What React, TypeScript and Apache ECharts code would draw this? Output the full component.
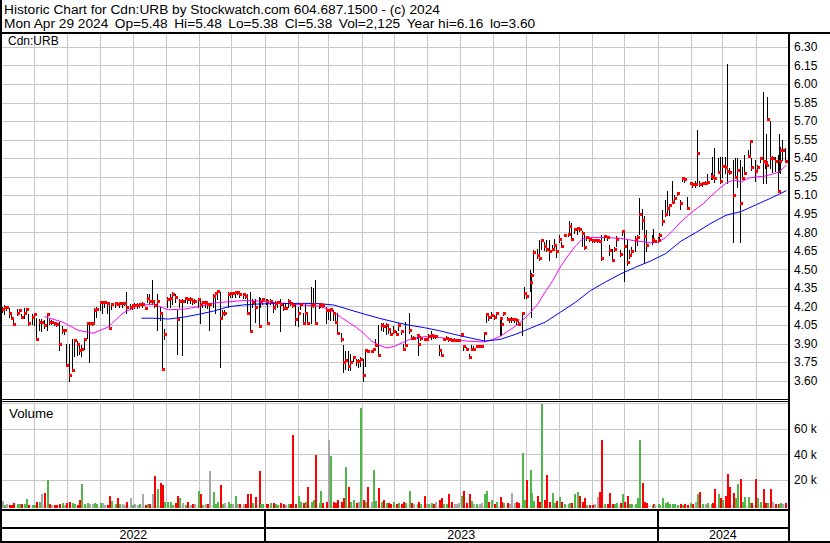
import React, { useEffect, useRef } from 'react';
import * as echarts from 'echarts';

// Sessions sampled through the period (Mon / Wed / Fri, holidays shifted)
const dates = [
  '2022-05-02', '2022-05-04', '2022-05-06',
  '2022-05-09', '2022-05-11', '2022-05-13',
  '2022-05-16', '2022-05-18', '2022-05-20',
  '2022-05-23', '2022-05-25', '2022-05-27',
  '2022-05-30', '2022-06-01', '2022-06-03',
  '2022-06-06', '2022-06-08', '2022-06-10',
  '2022-06-13', '2022-06-15', '2022-06-17',
  '2022-06-20', '2022-06-22', '2022-06-24',
  '2022-06-27', '2022-06-29', '2022-07-01',
  '2022-07-04', '2022-07-06', '2022-07-08',
  '2022-07-11', '2022-07-13', '2022-07-15',
  '2022-07-18', '2022-07-20', '2022-07-22',
  '2022-07-25', '2022-07-27', '2022-07-29',
  '2022-08-01', '2022-08-03', '2022-08-05',
  '2022-08-08', '2022-08-10', '2022-08-12',
  '2022-08-15', '2022-08-17', '2022-08-19',
  '2022-08-22', '2022-08-24', '2022-08-26',
  '2022-08-29', '2022-08-31', '2022-09-02',
  '2022-09-05', '2022-09-07', '2022-09-09',
  '2022-09-12', '2022-09-14', '2022-09-16',
  '2022-09-19', '2022-09-21', '2022-09-23',
  '2022-09-26', '2022-09-28', '2022-09-30',
  '2022-10-03', '2022-10-05', '2022-10-07',
  '2022-10-10', '2022-10-12', '2022-10-14',
  '2022-10-17', '2022-10-19', '2022-10-21',
  '2022-10-24', '2022-10-26', '2022-10-28',
  '2022-10-31', '2022-11-02', '2022-11-04',
  '2022-11-07', '2022-11-09', '2022-11-11',
  '2022-11-14', '2022-11-16', '2022-11-18',
  '2022-11-21', '2022-11-23', '2022-11-25',
  '2022-11-28', '2022-11-30', '2022-12-02',
  '2022-12-05', '2022-12-07', '2022-12-09',
  '2022-12-12', '2022-12-14', '2022-12-16',
  '2022-12-19', '2022-12-21', '2022-12-23',
  '2022-12-27', '2022-12-28', '2022-12-30',
  '2023-01-03', '2023-01-04', '2023-01-06',
  '2023-01-09', '2023-01-11', '2023-01-13',
  '2023-01-16', '2023-01-18', '2023-01-20',
  '2023-01-23', '2023-01-25', '2023-01-27',
  '2023-01-30', '2023-02-01', '2023-02-03',
  '2023-02-06', '2023-02-08', '2023-02-10',
  '2023-02-13', '2023-02-15', '2023-02-17',
  '2023-02-21', '2023-02-22', '2023-02-24',
  '2023-02-27', '2023-03-01', '2023-03-03',
  '2023-03-06', '2023-03-08', '2023-03-10',
  '2023-03-13', '2023-03-15', '2023-03-17',
  '2023-03-20', '2023-03-22', '2023-03-24',
  '2023-03-27', '2023-03-29', '2023-03-31',
  '2023-04-03', '2023-04-05', '2023-04-06',
  '2023-04-10', '2023-04-12', '2023-04-14',
  '2023-04-17', '2023-04-19', '2023-04-21',
  '2023-04-24', '2023-04-26', '2023-04-28',
  '2023-05-01', '2023-05-03', '2023-05-05',
  '2023-05-08', '2023-05-10', '2023-05-12',
  '2023-05-15', '2023-05-17', '2023-05-19',
  '2023-05-23', '2023-05-24', '2023-05-26',
  '2023-05-29', '2023-05-31', '2023-06-02',
  '2023-06-05', '2023-06-07', '2023-06-09',
  '2023-06-12', '2023-06-14', '2023-06-16',
  '2023-06-19', '2023-06-21', '2023-06-23',
  '2023-06-26', '2023-06-28', '2023-06-30',
  '2023-07-03', '2023-07-05', '2023-07-07',
  '2023-07-10', '2023-07-12', '2023-07-14',
  '2023-07-17', '2023-07-19', '2023-07-21',
  '2023-07-24', '2023-07-26', '2023-07-28',
  '2023-07-31', '2023-08-02', '2023-08-04',
  '2023-08-08', '2023-08-09', '2023-08-11',
  '2023-08-14', '2023-08-16', '2023-08-18',
  '2023-08-21', '2023-08-23', '2023-08-25',
  '2023-08-28', '2023-08-30', '2023-09-01',
  '2023-09-05', '2023-09-06', '2023-09-08',
  '2023-09-11', '2023-09-13', '2023-09-15',
  '2023-09-18', '2023-09-20', '2023-09-22',
  '2023-09-25', '2023-09-27', '2023-09-29',
  '2023-10-02', '2023-10-04', '2023-10-06',
  '2023-10-10', '2023-10-11', '2023-10-13',
  '2023-10-16', '2023-10-18', '2023-10-20',
  '2023-10-23', '2023-10-25', '2023-10-27',
  '2023-10-30', '2023-11-01', '2023-11-03',
  '2023-11-06', '2023-11-08', '2023-11-10',
  '2023-11-13', '2023-11-15', '2023-11-17',
  '2023-11-20', '2023-11-22', '2023-11-24',
  '2023-11-27', '2023-11-29', '2023-12-01',
  '2023-12-04', '2023-12-06', '2023-12-08',
  '2023-12-11', '2023-12-13', '2023-12-15',
  '2023-12-18', '2023-12-20', '2023-12-22',
  '2023-12-27', '2023-12-28', '2023-12-29',
  '2024-01-02', '2024-01-03', '2024-01-05',
  '2024-01-08', '2024-01-10', '2024-01-12',
  '2024-01-15', '2024-01-17', '2024-01-19',
  '2024-01-22', '2024-01-24', '2024-01-26',
  '2024-01-29', '2024-01-31', '2024-02-02',
  '2024-02-05', '2024-02-07', '2024-02-09',
  '2024-02-12', '2024-02-14', '2024-02-16',
  '2024-02-20', '2024-02-21', '2024-02-23',
  '2024-02-26', '2024-02-28', '2024-03-01',
  '2024-03-04', '2024-03-06', '2024-03-08',
  '2024-03-11', '2024-03-13', '2024-03-15',
  '2024-03-18', '2024-03-20', '2024-03-22',
  '2024-03-25', '2024-03-27', '2024-03-28',
  '2024-04-01', '2024-04-03', '2024-04-05',
  '2024-04-08', '2024-04-10', '2024-04-11', '2024-04-12',
  '2024-04-15', '2024-04-17', '2024-04-19',
  '2024-04-22', '2024-04-23', '2024-04-24', '2024-04-26',
  '2024-04-29',
];

const highs = [
  4.20, 4.21, 4.20,  4.19, 4.13, 4.11,  4.18, 4.18, 4.14,  4.19, 4.18, 4.14,
  4.14, 4.15, 4.11,  4.10, 4.10, 4.09,  4.14, 4.10, 4.09,  4.08, 4.08, 4.08,
  4.04, 4.02, 3.90,  3.90, 3.94, 3.93,  3.92, 3.90, 3.89,  3.94, 4.07, 4.07,
  4.08, 4.19, 4.20,  4.25, 4.25, 4.25,  4.23, 4.24, 4.23,  4.24, 4.24, 4.23,
  4.24, 4.23, 4.32,  4.22, 4.22, 4.23,  4.23, 4.23, 4.24,  4.20, 4.30, 4.30,
  4.42, 4.23, 4.30,  4.20, 4.15, 4.02,  4.28, 4.30, 4.32,  4.30, 4.17, 4.26,
  4.26, 4.28, 4.27,  4.28, 4.27, 4.26,  4.27, 4.25, 4.25,  4.25, 4.24, 4.23,
  4.30, 4.32, 4.33,  4.32, 4.17, 4.17,  4.32, 4.32, 4.32,  4.33, 4.33, 4.31,
  4.31, 4.30, 4.30,  4.32, 4.26, 4.26,  4.28, 4.27, 4.27,  4.26, 4.26, 4.26,
  4.24, 4.25, 4.25,  4.26, 4.22, 4.22,  4.26, 4.25, 4.24,  4.22, 4.20, 4.23,
  4.15, 4.22, 4.15,  4.36, 4.35, 4.42,  4.22, 4.22, 4.22,  4.20, 4.18, 4.19,
  4.17, 4.16, 4.15,  3.99, 3.89, 3.84,  3.84, 3.82, 3.80,  3.78, 3.78, 3.79,
  3.78, 3.85, 3.86,  3.85, 3.86, 3.94,  4.05, 4.07, 4.07,  4.07, 4.04, 4.01,
  4.04, 4.00, 4.07,  4.01, 3.90, 4.08,  4.15, 3.97, 3.96,  3.98, 3.98, 3.96,
  3.95, 3.95, 3.98,  4.00, 3.98, 3.97,  3.89, 3.84, 3.95,  3.96, 3.95, 3.95,
  3.95, 3.94, 3.94,  3.98, 3.89, 3.87,  3.82, 3.89, 3.88,  3.89, 3.89, 3.89,
  3.99, 4.15, 4.13,  4.16, 4.13, 4.16,  4.12, 4.12, 4.16,  4.12, 4.11, 4.12,
  4.11, 4.10, 4.08,  4.15, 4.36, 4.31,  4.50, 4.47, 4.66,  4.67, 4.74, 4.75,
  4.72, 4.74, 4.74,  4.70, 4.75, 4.71,  4.78, 4.72, 4.79,  4.80, 4.89, 4.88,
  4.84, 4.84, 4.84,  4.81, 4.79, 4.77,  4.76, 4.75, 4.75,  4.75, 4.74, 4.78,
  4.77, 4.77, 4.70,  4.67, 4.68, 4.77,  4.66, 4.82, 4.82,  4.75, 4.66, 4.68,
  4.77, 4.78, 5.08,  4.99, 4.93, 4.82,  4.78, 4.83, 4.75,  4.76, 4.80, 4.98,
  5.06, 5.14, 5.03,  5.22, 5.10, 5.12,  5.06, 5.25, 5.24,  5.09, 5.21, 5.20,
  5.22, 5.63, 5.22,  5.21, 5.22, 5.27,  5.28, 5.41, 5.48,  5.40, 5.41, 5.41,
  5.41, 6.16, 5.32,  5.39, 5.40, 5.40,  5.39, 5.33, 5.43,  5.47, 5.55, 5.40,
  5.39, 5.35, 5.41,  5.94, 5.39, 5.60, 5.90,  5.70, 5.42, 5.41,
  5.43, 5.60, 5.49, 5.55,  5.48,
];

const lows = [
  4.16, 4.14, 4.17,  4.12, 4.10, 4.06,  4.13, 4.15, 4.11,  4.11, 4.16, 4.05,
  4.06, 4.05, 3.94,  4.01, 4.00, 4.03,  4.01, 4.06, 4.06,  4.05, 4.04, 3.85,
  3.99, 3.98, 3.73,  3.60, 3.69, 3.80,  3.81, 3.82, 3.80,  3.86, 3.95, 3.75,
  4.05, 4.07, 4.12,  4.17, 4.15, 4.20,  4.15, 4.02, 4.18,  4.20, 4.21, 4.20,
  4.20, 4.21, 4.15,  4.18, 4.18, 4.19,  4.19, 4.20, 4.20,  4.18, 4.24, 4.22,
  4.22, 4.20, 4.01,  4.09, 3.70, 3.94,  4.20, 4.20, 4.22,  4.24, 3.82, 4.20,
  3.81, 4.24, 4.23,  4.23, 4.22, 4.23,  4.20, 4.07, 4.20,  4.20, 4.19, 4.01,
  4.20, 4.15, 4.26,  3.71, 4.10, 4.13,  4.20, 4.28, 4.28,  4.28, 4.30, 4.28,
  4.27, 4.27, 4.15,  4.00, 4.20, 4.08,  4.04, 4.20, 4.22,  4.22, 4.07, 4.22,
  4.16, 4.18, 4.20,  4.00, 4.17, 4.18,  4.20, 4.21, 4.20,  4.05, 4.04, 4.18,
  4.07, 4.07, 4.07,  4.07, 4.20, 4.07,  4.19, 4.20, 4.20,  4.07, 4.10, 4.09,
  4.09, 4.07, 3.99,  3.92, 3.67, 3.70,  3.69, 3.69, 3.76,  3.73, 3.71, 3.72,
  3.60, 3.72, 3.83,  3.83, 3.83, 3.89,  3.80, 4.01, 4.00,  3.98, 3.99, 3.97,
  3.99, 3.97, 4.01,  3.98, 3.86, 3.88,  3.99, 3.94, 3.94,  3.95, 3.81, 3.93,
  3.93, 3.93, 3.93,  3.94, 3.95, 3.95,  3.81, 3.81, 3.93,  3.94, 3.92, 3.92,
  3.92, 3.92, 3.92,  3.96, 3.85, 3.85,  3.79, 3.85, 3.85,  3.87, 3.87, 3.87,
  3.92, 4.08, 4.09,  4.11, 4.10, 4.13,  3.97, 3.97, 4.13,  4.09, 4.08, 4.08,
  4.08, 4.06, 4.05,  3.97, 4.27, 4.27,  4.33, 4.12, 4.48,  4.59, 4.58, 4.67,
  4.66, 4.65, 4.58,  4.66, 4.67, 4.60,  4.72, 4.68, 4.77,  4.77, 4.79, 4.74,
  4.80, 4.79, 4.81,  4.69, 4.67, 4.74,  4.73, 4.72, 4.72,  4.72, 4.72, 4.58,
  4.74, 4.74, 4.62,  4.58, 4.65, 4.69,  4.61, 4.78, 4.41,  4.54, 4.59, 4.62,
  4.65, 4.70, 4.79,  4.83, 4.56, 4.65,  4.71, 4.73, 4.72,  4.72, 4.74, 4.86,
  4.93, 4.97, 4.94,  5.05, 5.04, 5.10,  4.99, 5.22, 5.21,  5.00, 5.19, 5.17,
  5.17, 5.20, 5.18,  5.18, 5.19, 5.20,  5.23, 5.23, 5.21,  5.28, 5.20, 5.25,
  5.28, 5.20, 5.27,  4.72, 5.24, 5.17,  4.72, 5.23, 5.27,  5.41, 5.41, 5.31,
  5.22, 5.31, 5.37,  5.20, 5.32, 5.20, 5.72,  5.32, 5.29, 5.30,
  5.14, 5.29, 5.28, 5.39,  5.38,
];

const closes = [
  4.18, 4.20, 4.20,  4.15, 4.11, 4.06,  4.15, 4.17, 4.12,  4.15, 4.18, 4.07,
  4.12, 4.14, 3.94,  4.08, 4.08, 4.05,  4.14, 4.08, 4.08,  4.07, 4.06, 3.90,
  4.01, 4.01, 3.73,  3.65, 3.69, 3.93,  3.90, 3.85, 3.86,  3.94, 4.07, 4.07,
  4.07, 4.17, 4.18,  4.24, 4.24, 4.24,  4.23, 4.03, 4.22,  4.23, 4.22, 4.23,
  4.23, 4.23, 4.20,  4.20, 4.21, 4.21,  4.21, 4.22, 4.22,  4.19, 4.27, 4.25,
  4.25, 4.21, 4.25,  4.15, 3.70, 3.98,  4.26, 4.27, 4.30,  4.28, 4.10, 4.25,
  4.25, 4.27, 4.26,  4.26, 4.25, 4.25,  4.26, 4.22, 4.24,  4.24, 4.22, 4.22,
  4.29, 4.31, 4.33,  4.11, 4.15, 4.15,  4.30, 4.31, 4.31,  4.32, 4.32, 4.30,
  4.30, 4.29, 4.15,  4.00, 4.24, 4.20,  4.04, 4.25, 4.26,  4.25, 4.07, 4.25,
  4.20, 4.23, 4.24,  4.22, 4.19, 4.19,  4.25, 4.23, 4.21,  4.10, 4.15, 4.22,
  4.07, 4.15, 4.07,  4.21, 4.22, 4.07,  4.21, 4.22, 4.21,  4.17, 4.17, 4.18,
  4.15, 4.08, 3.99,  3.94, 3.75, 3.77,  3.72, 3.75, 3.79,  3.76, 3.76, 3.78,
  3.65, 3.85, 3.84,  3.84, 3.86, 3.89,  3.81, 4.05, 4.04,  4.05, 4.02, 3.98,
  4.00, 3.98, 4.05,  4.00, 3.86, 3.89,  4.01, 3.95, 3.95,  3.97, 3.90, 3.95,
  3.94, 3.94, 3.96,  3.97, 3.96, 3.96,  3.85, 3.81, 3.94,  3.95, 3.94, 3.93,
  3.93, 3.93, 3.93,  3.98, 3.88, 3.86,  3.79, 3.86, 3.86,  3.88, 3.88, 3.88,
  3.99, 4.14, 4.12,  4.13, 4.12, 4.15,  4.11, 4.06, 4.15,  4.10, 4.10, 4.10,
  4.10, 4.09, 4.06,  4.15, 4.31, 4.29,  4.40, 4.46, 4.64,  4.62, 4.59, 4.74,
  4.69, 4.67, 4.65,  4.67, 4.70, 4.65,  4.75, 4.69, 4.78,  4.79, 4.85, 4.75,
  4.83, 4.84, 4.83,  4.80, 4.68, 4.76,  4.75, 4.74, 4.74,  4.74, 4.73, 4.59,
  4.77, 4.76, 4.66,  4.58, 4.67, 4.75,  4.63, 4.81, 4.69,  4.56, 4.62, 4.65,
  4.75, 4.76, 4.95,  4.90, 4.77, 4.70,  4.75, 4.73, 4.73,  4.74, 4.78, 4.89,
  4.95, 5.00, 5.02,  5.05, 5.08, 5.12,  5.04, 5.24, 5.23,  5.00, 5.20, 5.19,
  5.19, 5.44, 5.19,  5.20, 5.20, 5.21,  5.26, 5.25, 5.24,  5.29, 5.22, 5.34,
  5.33, 5.30, 5.29,  5.10, 5.25, 5.31,  5.04, 5.24, 5.28,  5.42, 5.54, 5.33,
  5.30, 5.33, 5.40,  5.38, 5.37, 5.35, 5.72,  5.40, 5.40, 5.38,
  5.14, 5.38, 5.47, 5.47,  5.38,
];

const volumes = [
  4000, 1000, 1200,  900, 1100, 2000,  1500, 1200, 1400,  1500, 5500, 1000,
  900, 1000, 3000,  3000, 9000, 10000,  20000, 1200, 1000,  800, 1000, 1200,
  2000, 1000, 2500,  3000, 2500, 1200,  1000, 5000, 17000,  1500, 2000, 1500,
  1200, 2000, 1500,  2500, 2500, 1000,  1000, 8000, 4000,  1500, 6000, 1500,
  1200, 1000, 3000,  6000, 1000, 1200,  1000, 1200, 9000,  1000, 1200, 1500,
  9000, 23000, 13000,  18000, 16000, 3000,  3000, 3000, 1000,  2000, 8000, 6000,
  2000, 1000, 3000,  1000, 1200, 1500,  12000, 9000, 1000,  1200, 1500, 27000,
  11000, 1500, 3000,  16000, 1500, 2000,  3000, 1500, 1200,  8000, 1200, 1500,
  1500, 1200, 9000,  9000, 2000, 7000,  27000, 1500, 1200,  1500, 1200, 2000,
  2000, 1200, 1000,  2000, 1500, 1000,  1200, 1500, 55000,  1500, 8000, 3000,
  2000, 3000, 15000,  3000, 5000, 40000,  2000, 12000, 2000,  3000, 51000, 39000,
  3000, 2000, 5000,  3000, 6000, 30000,  15000, 3000, 5000,  2000, 3000, 76000,
  5000, 3000, 15000,  3000, 28000, 4000,  14000, 3000, 5000,  2000, 2000, 1500,
  3000, 1500, 2000,  1500, 3000, 2000,  12000, 2000, 1500,  1500, 3000, 1500,
  8000, 1500, 1200,  2000, 1500, 3000,  5000, 6000, 1500,  1500, 9000, 3000,
  1500, 1200, 2000,  8000, 12000, 2000,  9000, 4000, 1500,  1200, 1500, 2000,
  9000, 12000, 3000,  5000, 1500, 3000,  7000, 3000, 2000,  2000, 1500, 10000,
  2000, 3000, 2000,  41000, 5000, 20000,  28000, 10000, 4000,  8000, 3000, 79000,
  5000, 24000, 3000,  10000, 2000, 4000,  7000, 3000, 1500,  1500, 2000, 2000,
  9000, 11000, 8000,  3000, 6000, 1000,  1000, 1000, 1500,  7000, 11000, 51000,
  1500, 1200, 10000,  1500, 1500, 2000,  2000, 9000, 3000,  8000, 1500, 1200,
  1500, 6000, 51000,  18000, 3000, 2000,  1000, 1500, 1000,  1200, 1000, 6000,
  2000, 3000, 1500,  1500, 1200, 1000,  1200, 1000, 1500,  1000, 2000, 1500,
  3000, 9000, 11000,  1500, 1500, 2000,  1500, 2000, 13000,  9000, 6000, 5000,
  8000, 25000, 15000,  10000, 6000, 17000,  21000, 3000, 7000,  7000, 2000, 2000,
  21000, 6000, 3000,  13000, 2000, 1500, 2000,  13000, 3000, 1500,
  1500, 1200, 2000, 1500,  2125,
];

// Short moving average (magenta)
const maFastDates = [
  '2022-06-10', '2022-06-27', '2022-07-11', '2022-07-25', '2022-08-08', '2022-08-22',
  '2022-09-05', '2022-09-19', '2022-10-03', '2022-10-17', '2022-10-31', '2022-11-14',
  '2022-11-28', '2022-12-12', '2022-12-26', '2023-01-09', '2023-01-23', '2023-02-06',
  '2023-02-20', '2023-02-27', '2023-03-06', '2023-03-13', '2023-03-20', '2023-03-27',
  '2023-04-03', '2023-04-10', '2023-04-17', '2023-04-24', '2023-05-01', '2023-05-15',
  '2023-05-29', '2023-06-12', '2023-06-26', '2023-07-10', '2023-07-24', '2023-07-31',
  '2023-08-07', '2023-08-14', '2023-08-21', '2023-08-28', '2023-09-04', '2023-09-11',
  '2023-09-18', '2023-09-25', '2023-10-02', '2023-10-09', '2023-10-16', '2023-10-23',
  '2023-10-30', '2023-11-13', '2023-11-27', '2023-12-11', '2023-12-25', '2024-01-01',
  '2024-01-08', '2024-01-15', '2024-01-22', '2024-01-29', '2024-02-05', '2024-02-12',
  '2024-02-19', '2024-02-26', '2024-03-04', '2024-03-11', '2024-03-18', '2024-03-25',
  '2024-04-01', '2024-04-08', '2024-04-15', '2024-04-22', '2024-04-29',
];
const maFast = [
  4.12, 4.075, 4.01, 3.985, 4.035, 4.15,
  4.21, 4.22, 4.175, 4.18, 4.20, 4.23,
  4.24, 4.25, 4.245, 4.235, 4.225, 4.213,
  4.205, 4.185, 4.155, 4.11, 4.07, 4.03,
  3.98, 3.92, 3.888, 3.866, 3.88, 3.935,
  3.958, 3.95, 3.935, 3.92, 3.915, 3.934,
  3.958, 4.00, 4.04, 4.09, 4.15, 4.22,
  4.32, 4.41, 4.52, 4.61, 4.69, 4.75,
  4.76, 4.76, 4.753, 4.732, 4.718, 4.722,
  4.76, 4.82, 4.885, 4.94, 4.99, 5.035,
  5.095, 5.15, 5.20, 5.225, 5.21, 5.24,
  5.25, 5.255, 5.27, 5.29, 5.345,
];

// Long moving average (blue)
const maSlowDates = [
  '2022-09-08', '2022-09-19', '2022-10-03', '2022-10-17', '2022-10-31', '2022-11-14',
  '2022-11-28', '2022-12-12', '2022-12-26', '2023-01-09', '2023-01-23', '2023-02-06',
  '2023-02-20', '2023-03-06', '2023-03-20', '2023-04-03', '2023-04-17', '2023-05-01',
  '2023-05-15', '2023-05-29', '2023-06-12', '2023-06-26', '2023-07-10', '2023-07-24',
  '2023-08-07', '2023-08-21', '2023-09-04', '2023-09-18', '2023-10-02', '2023-10-16',
  '2023-10-30', '2023-11-13', '2023-11-27', '2023-12-11', '2023-12-25', '2024-01-08',
  '2024-01-22', '2024-02-05', '2024-02-19', '2024-03-04', '2024-03-18', '2024-04-01',
  '2024-04-15', '2024-04-29',
];
const maSlow = [
  4.107, 4.107, 4.10, 4.115, 4.138, 4.165,
  4.20, 4.215, 4.222, 4.225, 4.226, 4.227,
  4.225, 4.213, 4.176, 4.14, 4.106, 4.076,
  4.05, 4.03, 4.005, 3.975, 3.948, 3.922,
  3.935, 3.975, 4.025, 4.075, 4.155, 4.235,
  4.33, 4.40, 4.465, 4.52, 4.57, 4.63,
  4.73, 4.80, 4.875, 4.94, 4.97, 5.025,
  5.08, 5.139,
];

const years = ['2022', '2023', '2024'];

const headerTitle = 'Historic Chart for Cdn:URB by Stockwatch.com 604.687.1500 - (c) 2024';
const headerQuote = ['Mon Apr 29 2024', 'Op=5.48', 'Hi=5.48', 'Lo=5.38', 'Cl=5.38', 'Vol=2,125', 'Year hi=6.16', 'lo=3.60'];

const FONT = '"Liberation Sans", Arial, sans-serif';
const DAY = 86400000;
const AXIS_START = Date.parse('2022-05-02');
const AXIS_END = Date.parse('2024-05-01');
const GRID_LINE = '#c8c8c8';
const UP = '#4fb848';
const DOWN = '#ff0000';
const FLAT = '#a8a8a8';

const noon = (d: string) => Date.parse(d) + DAY / 2;

function monthStarts(): number[] {
  const out: number[] = [];
  const s = new Date(AXIS_START);
  let y = s.getUTCFullYear();
  let m = s.getUTCMonth() + 1;
  for (;;) {
    if (m > 11) { m = 0; y += 1; }
    const t = Date.UTC(y, m, 1);
    if (t >= AXIS_END) break;
    out.push(t);
    m += 1;
  }
  return out;
}

function buildOption() {
  const n = Math.min(dates.length, highs.length, lows.length, closes.length, volumes.length);
  const priceData: number[][] = [];
  const volumeData: number[][] = [];
  for (let i = 0; i < n; i++) {
    const t = noon(dates[i]);
    priceData.push([t, highs[i], lows[i], closes[i]]);
    const prev = i > 0 ? closes[i - 1] : closes[i];
    const dir = closes[i] > prev ? 1 : closes[i] < prev ? -1 : 0;
    volumeData.push([t, volumes[i], dir]);
  }
  const months = monthStarts().map((t) => [t]);

  const monthLines = (xi: number, yi: number, yv: number) => ({
    type: 'custom',
    xAxisIndex: xi,
    yAxisIndex: yi,
    silent: true,
    z: 1,
    data: months,
    encode: { x: 0 },
    renderItem: (params: any, api: any) => {
      const cs = params.coordSys;
      const x = Math.round(api.coord([api.value(0), yv])[0]) + 0.5;
      return {
        type: 'line',
        shape: { x1: x, y1: cs.y, x2: x, y2: cs.y + cs.height },
        style: { stroke: GRID_LINE, lineWidth: 1 },
      };
    },
  });

  const xAxisBase = { type: 'value', min: AXIS_START, max: AXIS_END, show: false };

  const yearSpans = years.map((y) => [
    Math.max(AXIS_START, Date.UTC(+y, 0, 1)),
    Math.min(AXIS_END, Date.UTC(+y + 1, 0, 1)),
  ]);

  const label = (text: string, x: number, y: number, size: number) => ({
    type: 'text',
    x,
    y,
    z: 101,
    silent: true,
    style: {
      text,
      font: `${size}px ${FONT}`,
      fill: '#000',
      textVerticalAlign: 'middle',
      verticalAlign: 'middle',
    },
  });
  const bar = (x: number, y: number, w: number, h: number) => ({
    type: 'rect',
    z: 102,
    silent: true,
    shape: { x, y, width: w, height: h },
    style: { fill: '#000' },
  });

  return {
    animation: false,
    backgroundColor: '#fff',
    grid: [
      { left: 2, top: 28.6, width: 786, height: 370.8 },
      { left: 2, top: 403.2, width: 786, height: 102.8 },
      { left: 2, top: 510, width: 786, height: 31 },
    ],
    xAxis: [
      { ...xAxisBase, gridIndex: 0 },
      { ...xAxisBase, gridIndex: 1 },
      { ...xAxisBase, gridIndex: 2 },
    ],
    yAxis: [
      {
        gridIndex: 0,
        type: 'value',
        position: 'right',
        min: 3.45,
        max: 6.45,
        interval: 0.15,
        axisLine: { show: false },
        axisTick: { show: false },
        splitLine: { show: true, lineStyle: { color: GRID_LINE, width: 1 } },
        axisLabel: {
          margin: 6,
          color: '#000',
          fontFamily: FONT,
          fontSize: 12,
          formatter: (v: number) => (v < 3.5 || v > 6.4 ? '' : v.toFixed(2)),
        },
      },
      {
        gridIndex: 1,
        type: 'value',
        position: 'right',
        min: 0,
        max: 80000,
        interval: 20000,
        axisLine: { show: false },
        axisTick: { show: false },
        splitLine: { show: true, lineStyle: { color: GRID_LINE, width: 1 } },
        axisLabel: {
          margin: 6,
          color: '#000',
          fontFamily: FONT,
          fontSize: 12,
          formatter: (v: number) => (v > 0 && v < 80000 ? `${v / 1000} k` : ''),
        },
      },
      { gridIndex: 2, type: 'value', min: 0, max: 1, show: false },
    ],
    series: [
      monthLines(0, 0, 4),
      monthLines(1, 1, 0),
      {
        // high-low range of each session
        name: 'Range',
        type: 'custom',
        xAxisIndex: 0,
        yAxisIndex: 0,
        z: 3,
        silent: true,
        data: priceData,
        encode: { x: 0, y: [1, 2] },
        renderItem: (params: any, api: any) => {
          const t = api.value(0);
          const hi = api.coord([t, api.value(1)]);
          const lo = api.coord([t, api.value(2)]);
          const px = Math.round(hi[0]);
          const yH = Math.round(hi[1]);
          const yL = Math.round(lo[1]);
          if (yL - yH < 1) return null;
          return {
            type: 'rect',
            shape: { x: px - 1, y: yH, width: 1, height: yL - yH + 1 },
            style: { fill: '#000' },
          };
        },
      },
      {
        // close of each session
        name: 'Close',
        type: 'custom',
        xAxisIndex: 0,
        yAxisIndex: 0,
        z: 5,
        silent: true,
        data: priceData,
        encode: { x: 0, y: 3 },
        renderItem: (params: any, api: any) => {
          const cl = api.coord([api.value(0), api.value(3)]);
          return {
            type: 'rect',
            shape: { x: Math.round(cl[0]) - 1, y: Math.round(cl[1]) - 1, width: 3, height: 3 },
            style: { fill: '#ff0000' },
          };
        },
      },
      {
        name: 'MA fast',
        type: 'line',
        xAxisIndex: 0,
        yAxisIndex: 0,
        z: 4,
        silent: true,
        showSymbol: false,
        lineStyle: { color: '#ff00ff', width: 1 },
        data: maFastDates.map((d, i) => [noon(d), maFast[i]]),
      },
      {
        name: 'MA slow',
        type: 'line',
        xAxisIndex: 0,
        yAxisIndex: 0,
        z: 4,
        silent: true,
        showSymbol: false,
        lineStyle: { color: '#0000ff', width: 1 },
        data: maSlowDates.map((d, i) => [noon(d), maSlow[i]]),
      },
      {
        name: 'Volume',
        type: 'custom',
        xAxisIndex: 1,
        yAxisIndex: 1,
        z: 3,
        silent: true,
        data: volumeData,
        encode: { x: 0, y: 1 },
        renderItem: (params: any, api: any) => {
          const t = api.value(0);
          const top = api.coord([t, api.value(1)]);
          const base = api.coord([t, 0]);
          const dir = api.value(2);
          const px = Math.round(top[0]);
          const yT = Math.round(top[1]);
          const yB = Math.round(base[1]) + 2;
          return {
            type: 'rect',
            shape: { x: px - 1, y: yT, width: 2, height: Math.max(1, yB - yT) },
            style: { fill: dir > 0 ? UP : dir < 0 ? DOWN : FLAT },
          };
        },
      },
      {
        type: 'custom',
        xAxisIndex: 2,
        yAxisIndex: 2,
        silent: true,
        data: yearSpans,
        encode: { x: [0, 1] },
        renderItem: (params: any, api: any) => {
          const cs = params.coordSys;
          const s = api.value(0);
          const x1 = api.coord([s, 0])[0];
          const x2 = api.coord([api.value(1), 0])[0];
          const children: any[] = [
            {
              type: 'text',
              style: {
                text: years[params.dataIndex],
                x: (x1 + x2) / 2,
                y: cs.y + 25,
                textAlign: 'center',
                align: 'center',
                textVerticalAlign: 'middle',
                verticalAlign: 'middle',
                font: `12.5px ${FONT}`,
                fill: '#000',
              },
            },
          ];
          if (s > AXIS_START) {
            children.push({
              type: 'rect',
              shape: { x: Math.round(x1) - 1, y: cs.y, width: 2, height: cs.height },
              style: { fill: '#000' },
            });
          }
          return { type: 'group', children };
        },
      },
    ],
    graphic: [
      { type: 'rect', z: 100, silent: true, shape: { x: 0, y: 0, width: 830, height: 32 }, style: { fill: '#fff' } },
      label(headerTitle, 4, 9.6, 13.7),
      label(headerQuote.join('\u00a0\u2009'), 4, 23.8, 13.7),
      bar(0, 32, 830, 2),
      bar(0, 0, 2, 543),
      bar(788, 32, 2, 511),
      bar(0, 399, 788, 1),
      bar(0, 401, 788, 1),
      bar(0, 509, 790, 2),
      bar(0, 527, 790, 2),
      bar(0, 541, 830, 2),
      label('Cdn:URB', 8, 40.8, 12),
      label('Volume', 9, 413, 13.33),
    ],
  };
}

export default function App() {
  const ref = useRef<HTMLDivElement>(null);
  useEffect(() => {
    document.body.style.margin = '0';
    if (!ref.current) return;
    const chart = echarts.init(ref.current, undefined, { renderer: 'svg' });
    chart.setOption(buildOption() as any);
    return () => chart.dispose();
  }, []);
  return <div ref={ref} style={{ width: 830, height: 543 }} />;
}
